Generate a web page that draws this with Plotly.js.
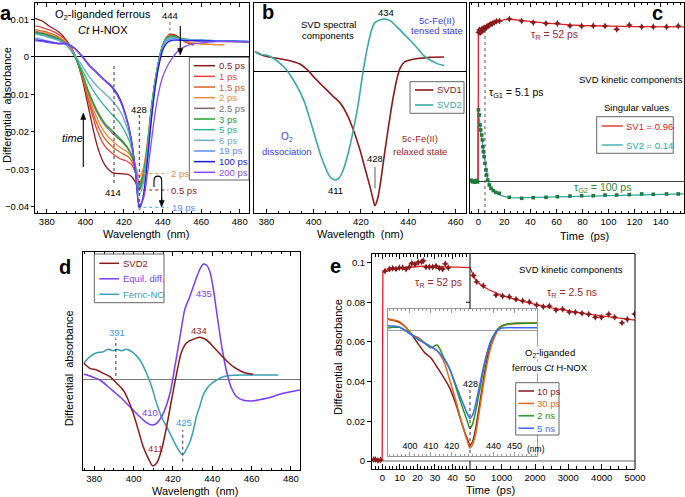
<!DOCTYPE html>
<html><head><meta charset="utf-8">
<script src="https://cdn.plot.ly/plotly-3.0.1.min.js"></script>
<style>html,body{margin:0;padding:0;background:#fff}#chart{width:685px;height:497px}</style>
</head><body><div id="chart"></div>
<script>
// ---------- Panel a : transient spectra ----------
const A_WL = [374,378,382,386,390,394,398,402,406,410,414,418,422,424,426,428,430,432,434,436,438,440,442,444,446,448,452,456,460,464,468,472,476,480,485];
const A_NAMES = ['0.5 ps','1 ps','1.5 ps','2 ps','2.5 ps','3 ps','5 ps','6 ps','19 ps','100 ps','200 ps'];
const A_COLORS = ['#8b1a1a','#e8403a','#e0601a','#f08a3a','#7d6a6a','#22a02a','#2ab58a','#6aaec5','#5a8cff','#1a1ae0','#8a4af5'];
const A_05 = [0.0102,0.0094,0.0079,0.0067,0.0045,0.0012,-0.0052,-0.0145,-0.0235,-0.0288,-0.0309,-0.0312,-0.0314,-0.032,-0.0335,-0.0356,-0.0325,-0.026,-0.0165,-0.0082,-0.002,0.0025,0.005,0.006,0.0059,0.0053,0.0039,0.0031,null,null,null,null,null,null,null];
const A_1 = [0.0082,0.0077,0.007,0.006,0.0043,0.0012,-0.0045,-0.0125,-0.0195,-0.0238,-0.0258,-0.0272,-0.028,-0.0288,-0.031,-0.0342,-0.0315,-0.0245,-0.0152,-0.0074,-0.0015,0.0028,0.005,0.0058,0.0057,0.0052,0.004,0.0033,null,null,null,null,null,null,null];
const A_15 = [0.0072,0.0068,0.0062,0.0053,0.0038,0.001,-0.0045,-0.0118,-0.0178,-0.0218,-0.024,-0.0255,-0.0266,-0.0278,-0.0302,-0.0335,-0.031,-0.024,-0.0148,-0.007,-0.0012,0.003,0.0051,0.0057,0.0055,0.005,0.0041,0.0036,0.0034,0.0033,0.0032,0.0033,null,null,null];
const A_2 = [0.0068,0.0064,0.0058,0.005,0.0036,0.0008,-0.0042,-0.0108,-0.0163,-0.0202,-0.0225,-0.0242,-0.0255,-0.0268,-0.0292,-0.032,-0.0298,-0.0232,-0.0142,-0.0066,-0.001,0.003,0.005,0.0056,0.0054,0.0049,0.0041,0.0036,0.0034,0.0033,0.0032,0.0032,null,null,null];
const A_25 = [0.0066,0.0062,0.0056,0.0048,0.0034,0.0006,-0.0042,-0.01,-0.0148,-0.0182,-0.0204,-0.0222,-0.0245,-0.0265,-0.03,-0.0352,-0.0322,-0.0248,-0.0152,-0.0072,-0.0014,0.0028,0.0048,0.0055,0.0054,0.005,0.0045,0.0043,0.0042,0.0042,0.0041,0.0041,0.004,0.004,0.0039];
const A_3 = [0.0064,0.006,0.0054,0.0047,0.0033,0.0005,-0.004,-0.0097,-0.0143,-0.0177,-0.0198,-0.0218,-0.0243,-0.0263,-0.0298,-0.0345,-0.0318,-0.0245,-0.015,-0.007,-0.0012,0.003,0.0049,0.0055,0.0054,0.0051,0.0047,0.0045,0.0044,0.0043,0.0043,0.0042,0.0042,0.0041,0.004];
const A_5 = [0.0063,0.0058,0.0052,0.0045,0.0032,0.0006,-0.0032,-0.0072,-0.0105,-0.0132,-0.0155,-0.0178,-0.0215,-0.0245,-0.0295,-0.0352,-0.0325,-0.025,-0.0152,-0.0072,-0.0013,0.0028,0.0047,0.0052,0.0051,0.0049,0.0046,0.0045,0.0044,0.0043,0.0043,0.0042,0.0042,0.0041,0.004];
const A_6 = [0.006,0.0056,0.005,0.0044,0.0032,0.0009,-0.0022,-0.0053,-0.0078,-0.0098,-0.0118,-0.0145,-0.0195,-0.0235,-0.0295,-0.0368,-0.034,-0.026,-0.0158,-0.0075,-0.0015,0.0026,0.0045,0.005,0.005,0.0048,0.0046,0.0045,0.0044,0.0044,0.0043,0.0043,0.0042,0.0042,0.0041];
const A_19 = [0.005,0.0045,0.004,0.0036,0.0036,0.0025,0.0004,-0.0022,-0.0042,-0.0062,-0.008,-0.0112,-0.0175,-0.0225,-0.031,-0.0408,-0.0375,-0.0285,-0.0175,-0.0085,-0.002,0.0023,0.0041,0.0047,0.0048,0.0047,0.0045,0.0044,0.0044,0.0043,0.0043,0.0043,0.0042,0.0042,0.0041];
const A_100 = [0.0045,0.0042,0.0038,0.0035,0.0035,0.0024,0.0003,-0.0023,-0.0043,-0.0063,-0.0082,-0.0115,-0.0178,-0.0228,-0.031,-0.0402,-0.0372,-0.0285,-0.0178,-0.009,-0.0026,0.0016,0.0035,0.0042,0.0044,0.0044,0.0043,0.0043,0.0042,0.0042,0.0041,0.0041,0.0041,0.004,0.004];
const A_200 = [0.0043,0.004,0.0037,0.0034,0.0034,0.0023,0.0002,-0.0024,-0.0044,-0.0064,-0.0084,-0.0118,-0.018,-0.0228,-0.0305,-0.0395,-0.038,-0.0318,-0.0235,-0.0155,-0.0095,-0.0055,-0.003,-0.0012,0.0003,0.0015,0.0028,0.0034,0.0037,0.0039,0.004,0.004,0.004,0.004,0.004];
const A_SERIES = [A_05,A_1,A_15,A_2,A_25,A_3,A_5,A_6,A_19,A_100,A_200];

// ---------- Panel b : SVD spectral components ----------
const B_WL1 = [375.2,379.4,384.4,390,394.2,397.7,400.6,404.1,408.3,411.1,413.9,416.8,419.6,421.7,423.8,425.2,425.9,426.9,428,429.4,430.8,432.3,433.7,435.1,436.5,438.6,440.7,444.9,449.2,455.1];
const B_SVD1 = [0.144,0.112,0.095,0.077,0.052,0.0025,-0.055,-0.117,-0.19,-0.236,-0.316,-0.44,-0.59,-0.726,-0.863,-0.963,-1.005,-0.963,-0.863,-0.689,-0.515,-0.34,-0.19,-0.067,0.02,0.07,0.082,0.095,0.102,0.104];
const B_WL2 = [375.2,377.3,380.1,383,385.8,388.6,391.4,394.2,396.3,398.5,400.6,402.7,404.8,406.9,409,410.4,412.5,414.6,416.8,418.9,421,423.1,424.5,425.9,428,430.1,432.3,435.1,437.9,440.7,443.5,446.3,449.2,452,455.1];
const B_SVD2 = [0.144,0.124,0.119,0.095,0.057,0.0075,-0.067,-0.154,-0.241,-0.366,-0.49,-0.614,-0.714,-0.789,-0.813,-0.806,-0.739,-0.614,-0.44,-0.241,0.0075,0.206,0.306,0.361,0.381,0.388,0.376,0.331,0.281,0.231,0.177,0.119,0.082,0.057,0.04];

// ---------- Panel c : SVD kinetic components ----------
const C_FIT1_T = [-6.4,-0.1,0,1,2,3,5,7,10,13,16,20,25,30,40,50,60,70,80,90,100,110,120,130,140,150,158];
const C_FIT1_V = [0,0,0.935,0.94,0.944,0.948,0.957,0.966,0.98,0.993,1.002,1.009,1.011,1.008,0.998,0.988,0.981,0.976,0.972,0.969,0.967,0.966,0.965,0.964,0.964,0.963,0.963];
const C_PTS1_T = [0.3,0.8,1.3,1.8,2.3,2.8,3.3,3.8,4.3,5,5.8,6.6,7.5,8.5,9.6,10.8,12.2,14,16.2,23.8,33.3,42.2,52,60.7,70.4,79.4,88.3,97.3,106.3,116,125.5,134.4,144.6,153.6];
const C_PTS1_V = [0.93,0.945,0.925,0.94,0.935,0.95,0.94,0.955,0.945,0.958,0.955,0.965,0.97,0.975,0.98,0.985,0.99,0.998,1.0,1.0125,1.0,0.99,0.985,0.985,0.971,0.969,0.971,0.969,0.948,0.975,0.964,0.964,0.964,0.969];
const C_FIT2_T = [-6.4,-0.4,-0.35,0.5,1,1.5,2,3,4,5,6,7,8,10,12,15,20,25,30,40,50,60,80,100,120,140,158];
const C_FIT2_V = [-0.003,-0.003,0.45,0.41,0.37,0.33,0.3,0.245,0.18,0.115,0.06,0.02,-0.012,-0.045,-0.066,-0.082,-0.097,-0.104,-0.106,-0.104,-0.101,-0.098,-0.093,-0.089,-0.086,-0.083,-0.081];
const C_PTS2_T = [-5.5,-4.5,-3.5,-2.5,-1.5,-0.5,0.1,0.8,1.3,1.8,2.6,3.1,3.5,3.9,4.4,5.1,5.9,6.4,7.2,8.4,9.7,11.5,13.5,16.1,23.8,33.3,42.2,52,60.7,70.4,79.4,88.3,97.3,106.3,116,125.5,134.4,144.6,153.6];
const C_PTS2_V = [0.005,-0.005,0.0,-0.008,0.003,-0.005,0.445,0.4125,0.35,0.319,0.2875,0.256,0.214,0.183,0.152,0.11,0.069,0.0375,0.006,-0.025,-0.046,-0.06,-0.071,-0.077,-0.102,-0.108,-0.104,-0.102,-0.098,-0.094,-0.092,-0.092,-0.0875,-0.0875,-0.085,-0.081,-0.083,-0.081,-0.081];
const C_TAU_G1 = 5.1;

// ---------- Panel d : comparison spectra ----------
const D_WL_SVD2 = [374.7,377.8,381.2,384.6,388,391.4,394.7,397.3,399.8,402.4,404.9,407.5,409.7,411.7,414.2,416.8,419.3,421.9,424.4,427,430.3,433.7,437.1,440.5,443.9,447.3,450.7,454.1,457.5,460.8];
const D_SVD2 = [0.157,0.107,0.09,0.057,0.023,-0.043,-0.11,-0.21,-0.343,-0.51,-0.677,-0.793,-0.867,-0.843,-0.71,-0.477,-0.21,0.057,0.273,0.363,0.397,0.417,0.39,0.323,0.25,0.183,0.123,0.083,0.058,0.047];
const D_WL_EQ = [374.7,379.5,382.9,388,393,398.1,403.2,406.6,409.2,411.7,415.1,418.5,421,423.6,426.1,428.3,430.3,432.3,434,435.5,437,438.8,440.5,442.2,444.7,447.3,449.8,452.4,455.8,460,467.6,476.1,484.6];
const D_EQ = [0.05,0.017,-0.01,-0.093,-0.177,-0.277,-0.377,-0.437,-0.46,-0.443,-0.343,-0.143,0.123,0.423,0.7,0.81,0.92,1.03,1.11,1.15,1.14,1.073,0.907,0.673,0.34,0.073,-0.093,-0.177,-0.213,-0.22,-0.193,-0.143,-0.11];
const D_WL_NO = [374.7,377.8,381.2,384.6,387.1,389.7,391.4,393.9,396.4,399.8,403.2,406.6,409.2,411.7,414.2,416.8,419.3,421.9,424.4,425.6,426.9,428.6,430.3,432,433.7,435.4,437.1,438.8,442.2,445.6,450.7,456,462,468,473.6];
const D_NO = [0.157,0.223,0.263,0.273,0.297,0.283,0.297,0.283,0.297,0.263,0.19,0.057,-0.077,-0.243,-0.377,-0.477,-0.577,-0.677,-0.75,-0.745,-0.7,-0.63,-0.52,-0.37,-0.27,-0.16,-0.1,-0.06,-0.01,0.023,0.037,0.04,0.04,0.04,0.04];
const D_MARK_391 = 391, D_MARK_425 = 425;

// ---------- Panel e : long-time kinetics + inset ----------
const E_FIT1_T = [-5.9,-0.1,0.3,2,5,10,15,20,25,30,35,40,45,50];
const E_FIT1_V = [0.0004,0.0004,0.095,0.0955,0.0963,0.097,0.0976,0.098,0.0982,0.0981,0.0979,0.0977,0.0975,0.0974];
const E_PTS1_T = [-5,-4,-2.5,-1,1.5,4.0,5.9,7.8,9.7,11.6,13.5,15.4,16.8,18.6,20.5,22.4,23.4,24.9,26.8,28.7,30.6,32.5,34.4,35.9,37.6];
const E_PTS1_V = [0.0007,0.0008,0.0003,0.0005,0.0957,0.0967,0.0971,0.0967,0.0974,0.0974,0.0967,0.0977,0.0996,0.0991,0.1001,0.1004,0.1009,0.0977,0.0977,0.0977,0.0982,0.0971,0.0967,0.0994,0.0974];
const E_FIT2_T = [50,100,150,200,300,400,600,800,1000,1300,1600,2000,2500,3000,3500,4000,4500,5000];
const E_FIT2_V = [0.0974,0.0952,0.0932,0.0917,0.0898,0.0885,0.0864,0.0848,0.0835,0.0819,0.0805,0.0789,0.0771,0.0756,0.0743,0.0731,0.072,0.071];
const E_PTS2_T = [150,250,450,830,1030,1230,1430,1630,1830,2050,2250,2430,2630,2830,3030,3210,3410,3610,3810,3990,4210,4390,4610,4770,4990];
const E_PTS2_V = [0.0935,0.0903,0.0883,0.0836,0.0831,0.0828,0.0815,0.0808,0.0801,0.0786,0.0777,0.0781,0.0761,0.0764,0.0751,0.0749,0.0744,0.0739,0.0724,0.0724,0.0739,0.0724,0.0697,0.0714,0.0741];
const INSET_WL = [389.5,392,395,398,401,404,407,410,413,416,419,422,424,426,427.5,428.7,430,431.5,433,434.5,436,437.5,439,440.5,442,444,447,451,456,460.8];
const INSET_NAMES = ['10 ps','30 ps','2 ns','5 ns'];
const INSET_COLORS = ['#8b1a1a','#e06a1a','#229a22','#3a6af5'];
const I_10 = [0.0039,0.0035,0.0028,0.0012,-0.0013,-0.0043,-0.0071,-0.0088,-0.0119,-0.0151,-0.0187,-0.0241,-0.0286,-0.0328,-0.0355,-0.0374,-0.0362,-0.0318,-0.0256,-0.0188,-0.0128,-0.0073,-0.0036,-0.0012,0.0006,0.0017,0.0023,0.0025,0.0025,0.0025];
const I_30 = [0.004,0.0036,0.0031,0.0013,-0.0012,-0.0022,-0.0038,-0.0052,-0.0065,-0.0097,-0.016,-0.023,-0.0282,-0.033,-0.0362,-0.0385,-0.0372,-0.0335,-0.0272,-0.0205,-0.0142,-0.0087,-0.0047,-0.002,0.0002,0.0015,0.0022,0.0024,0.0025,0.0025];
const I_2N = [0.001,0.0012,0.0012,0.0002,-0.0012,-0.0028,-0.004,-0.0055,-0.0046,-0.0085,-0.0125,-0.0185,-0.0228,-0.0268,-0.0297,-0.032,-0.0305,-0.0262,-0.0208,-0.0152,-0.0102,-0.006,-0.003,-0.001,0.0006,0.0017,0.0023,0.0025,0.0025,0.0025];
const I_5N = [0.0017,0.0016,0.0012,0.0,-0.0014,-0.0027,-0.004,-0.0052,-0.0065,-0.0088,-0.0125,-0.0178,-0.0214,-0.0248,-0.0272,-0.0287,-0.0275,-0.0238,-0.019,-0.014,-0.0095,-0.0057,-0.0028,-0.001,0.0003,0.001,0.0011,0.0011,0.0011,0.0011];
const INSET_SERIES = [I_10,I_30,I_2N,I_5N];

// ---------- helpers ----------
const W=685,H=497;
const X=x=>x/W, Y=y=>1-y/H;
const FONT='Liberation Sans, Arial, Helvetica, sans-serif';
const F=(s,c)=>({family:FONT,size:s||9.5,color:c||'#000'});
const dx=(a,b)=>[a/W,b/W], dy=(t,b)=>[1-b/H,1-t/H];
const ann=[], shp=[], traces=[];
function T(x,y,text,o){ann.push(Object.assign({xref:'paper',yref:'paper',x:X(x),y:Y(y),text:text,showarrow:false,xanchor:'center',yanchor:'middle',font:F()},o||{}));}
function L(x0,y0,x1,y1,color,width,dash){shp.push({type:'line',xref:'paper',yref:'paper',x0:X(x0),y0:Y(y0),x1:X(x1),y1:Y(y1),line:{color:color,width:width||1,dash:dash||'solid'},layer:'above'});}
function R(x0,y0,x1,y1,color){shp.push({type:'rect',xref:'paper',yref:'paper',x0:X(x0),y0:Y(y0),x1:X(x1),y1:Y(y1),line:{color:color||'#555',width:1},fillcolor:'#fff',layer:'above'});}
function legendBox(box,names,colors,y0,dyy,lx0,lx1,tx,size,lw){R(box[0],box[1],box[2],box[3],'#666');names.forEach((n,i)=>{const y=y0+i*dyy;L(lx0,y,lx1,y,colors[i],lw||1.5);T(tx,y,n,{xanchor:'left',font:F(size||9.5,colors[i])});});}
// vertical arrow drawn as shapes: tail (x,y0) -> head (x,y1)
function varrow(x,y0,y1,color){const s=Math.sign(y1-y0);const c=color||'#000';
  L(x,y0,x,y1-s*5,c,1.1);
  shp.push({type:'path',xref:'paper',yref:'paper',layer:'above',line:{color:c,width:0.5},fillcolor:c,
    path:`M ${X(x)},${Y(y1)} L ${X(x-2.6)},${Y(y1-s*6.5)} L ${X(x+2.6)},${Y(y1-s*6.5)} Z`});}
function lineTrace(x,y,xa,ya,color,width,shape){traces.push({type:'scatter',mode:'lines',x:x,y:y,xaxis:xa,yaxis:ya,line:{color:color,width:width||1.4,shape:shape||'spline',smoothing:0.8},connectgaps:false,hoverinfo:'skip'});}
function ptsTrace(x,y,xa,ya,color,symbol,size){traces.push({type:'scatter',mode:'markers',x:x,y:y,xaxis:xa,yaxis:ya,marker:{color:color,symbol:symbol,size:size,line:{width:0}},hoverinfo:'skip'});}

// ---------- traces ----------
A_SERIES.forEach((s,i)=>lineTrace(A_WL,s,'x','y',A_COLORS[i],1.3));
lineTrace(B_WL1,B_SVD1,'x2','y2','#8b1a1a',1.6);
lineTrace(B_WL2,B_SVD2,'x2','y2','#3aa8a8',1.6);
lineTrace(C_FIT2_T,C_FIT2_V,'x3','y3','#2aa8a8',1.3,'linear');
lineTrace(C_FIT1_T,C_FIT1_V,'x3','y3','#e02020',1.3,'linear');
ptsTrace(C_PTS2_T,C_PTS2_V,'x3','y3','#1e7a3a','square',3.6);
ptsTrace(C_PTS1_T,C_PTS1_V,'x3','y3','#8b1a1a','star-diamond',5);
lineTrace(D_WL_NO,D_NO,'x4','y4','#3aa0b5',1.5);
lineTrace(D_WL_EQ,D_EQ,'x4','y4','#7a3cf5',1.5);
lineTrace(D_WL_SVD2,D_SVD2,'x4','y4','#8b1a1a',1.5);
lineTrace(E_FIT1_T,E_FIT1_V,'x5','y5','#e02020',1.3,'linear');
ptsTrace(E_PTS1_T,E_PTS1_V,'x5','y5','#8b1a1a','star-diamond',5);
lineTrace(E_FIT2_T,E_FIT2_V,'x6','y5','#e02020',1.3,'linear');
ptsTrace(E_PTS2_T,E_PTS2_V,'x6','y5','#8b1a1a','star-diamond',5);
INSET_SERIES.forEach((s,i)=>lineTrace(INSET_WL,s,'x7','y7',INSET_COLORS[i],1.5));

// ---------- axes ----------
const base={showline:true,linecolor:'#000',linewidth:1,showgrid:false,zeroline:false,ticks:'inside',ticklen:4,tickwidth:1,tickcolor:'#000',tickfont:F(9.5),fixedrange:true};
const ax=o=>Object.assign({},base,o);
const minor=(d,len)=>({dtick:d,ticks:'inside',ticklen:len||2,tickcolor:'#000'});
const layout={
  width:W,height:H,margin:{l:0,r:0,t:0,b:0},paper_bgcolor:'#fff',plot_bgcolor:'#fff',showlegend:false,font:F(9.5),
  xaxis:ax({domain:dx(35,249),range:[373.9,484.8],anchor:'y',tick0:380,dtick:20,mirror:'ticks',minor:minor(5)}),
  yaxis:ax({domain:dy(3,213),range:[-0.04168,0.01432],anchor:'x',tick0:0,dtick:0.01,ticks:'outside',ticklen:3,mirror:true,zeroline:true,zerolinecolor:'#000',zerolinewidth:1}),
  xaxis2:ax({domain:dx(254,466),range:[374.8,464.4],anchor:'y2',tick0:380,dtick:20,mirror:true,minor:minor(5)}),
  yaxis2:ax({domain:dy(3,213),range:[-1.0597,0.5075],anchor:'x2',showticklabels:false,ticks:'',mirror:true,zeroline:true,zerolinecolor:'#000',zerolinewidth:1}),
  xaxis3:ax({domain:dx(470,684),range:[-6.4,158],anchor:'y3',tick0:0,dtick:20,mirror:'ticks',minor:minor(5)}),
  yaxis3:ax({domain:dy(3,213),range:[-0.2,1.1125],anchor:'x3',showticklabels:false,ticks:'',mirror:true,zeroline:true,zerolinecolor:'#444',zerolinewidth:1}),
  xaxis4:ax({domain:dx(83,300),range:[374.3,484.6],anchor:'y4',tick0:380,dtick:20,mirror:'ticks',minor:minor(5)}),
  yaxis4:ax({domain:dy(252,470),range:[-0.91,1.27],anchor:'x4',showticklabels:false,ticks:'',mirror:true,zeroline:true,zerolinecolor:'#777',zerolinewidth:1}),
  xaxis5:ax({domain:dx(372,470),range:[-5.9,50],anchor:'y5',tick0:0,dtick:10,ticklen:5,mirror:'ticks',minor:minor(2,3)}),
  yaxis5:ax({domain:dy(254,469),range:[-0.00403,0.1043],anchor:'x5',tick0:0,dtick:0.02,ticks:'outside',ticklen:4,mirror:false}),
  xaxis6:ax({domain:dx(470,635),range:[50,5000],anchor:'y5',tick0:0,dtick:1000,ticklen:5,mirror:true,minor:minor(250,3)}),
  xaxis7:ax({domain:dx(388,537),range:[389.5,460.8],anchor:'y7',tickmode:'array',tickvals:[400,410,420,440,450],ticklabelposition:'inside',tickfont:F(9),linecolor:'#999',tickcolor:'#999',mirror:'ticks',minor:{tick0:400,dtick:2,ticks:'inside',ticklen:2,tickcolor:'#999'}}),
  yaxis7:ax({domain:dy(309,456),range:[-0.04105,0.00722],anchor:'x7',showticklabels:false,ticks:'',linecolor:'#999',mirror:true,zeroline:true,zerolinecolor:'#999',zerolinewidth:1})
};

// ---------- panel a annotations ----------
T(6,13,'<b>a</b>',{font:F(20)});
T(102.5,15,'O<sub>2</sub>-liganded ferrous',{font:F(11)});
T(103.3,30,'<i>Ct</i> H-NOX',{font:F(11)});
T(170,16,'444');
L(170,22,170,30,'#666',1,'dot');
varrow(180.3,26,55);
T(139.3,109,'428');
L(139.3,115,139.3,207,'#333',1,'dot');
T(113.3,192.3,'414');
L(114,66,114,183,'#333',1,'dot');
T(72,138,'<i>time</i>',{font:F(11)});
varrow(83.3,167,113);
L(143.3,173.7,168.3,173.7,'#f08a3a',1,'dot'); T(169.3,173.7,'2 ps',{xanchor:'left',font:F(9.5,'#f08a3a')});
L(143.3,190,168.3,190,'#8b1a1a',1,'dot'); T(169.3,190,'0.5 ps',{xanchor:'left',font:F(9.5,'#8b1a1a')});
L(143.3,207.3,168.3,207.3,'#40b0d0',1,'dot'); T(170,207.3,'19 ps',{xanchor:'left',font:F(9.5,'#5a8cff')});
shp.push({type:'path',xref:'paper',yref:'paper',layer:'above',line:{color:'#000',width:1.1},
  path:`M ${X(154)},${Y(187)} L ${X(154)},${Y(181)} C ${X(154)},${Y(174.5)} ${X(161.7)},${Y(174.5)} ${X(161.7)},${Y(181)} L ${X(161.7)},${Y(200)}`});
varrow(161.7,198,207);
legendBox([189.3,57.3,249,180],A_NAMES,A_COLORS,65.7,10.66,194,215,216.5,9.5,1.5);
T(145.7,234.3,'Wavelength\u00a0 (nm)',{font:F(11)});
T(7,105,'Differential\u00a0 absorbance',{textangle:-90,font:F(11)});

// ---------- panel b annotations ----------
const BLUE='#3a3af0', DRED='#a02828';
T(268,12.3,'<b>b</b>',{font:F(20)});
T(328.3,24.3,'SVD spectral'); T(328.3,35,'components');
T(385.7,12.3,'434');
T(436.7,20,'5c-Fe(II)',{font:F(9.5,BLUE)}); T(436.7,31,'tensed state',{font:F(9.5,BLUE)});
legendBox([410,81.7,464,113.3],['SVD1','SVD2'],['#8b1a1a','#3aa8a8'],90,15,415,433.3,435,9.5,1.6);
T(286.7,136.7,'O<sub>2</sub>',{font:F(10,BLUE)}); T(286.7,151,'dissociation',{font:F(9.5,BLUE)});
T(420,138.3,'5c-Fe(II)',{font:F(9.5,DRED)}); T(420,151,'relaxed state',{font:F(9.5,DRED)});
T(375,158.3,'428'); L(375,166.7,375,188.3,'#777',1.2);
T(335,190.7,'411');
T(360,234,'Wavelength\u00a0 (nm)',{font:F(11)});

// ---------- panel c annotations ----------
T(657.3,13.3,'<b>c</b>',{font:F(20)});
T(554,34.7,'τ<sub>R</sub> = 52 ps',{font:F(10.5,DRED)});
T(630.5,79,'SVD kinetic components');
T(516.3,92.7,'τ<sub>G1</sub> = 5.1 ps',{font:F(10.5)});
T(636.3,107.7,'Singular values');
legendBox([596.7,116.7,673.3,153.3],['SV1 = 0.96','SV2 = 0.14'],['#e02020','#2aa8a8'],126,19,601.7,622.7,624.3,9.5,1.3);
T(602.3,188.3,'τ<sub>G2</sub> = 100 ps',{font:F(10.5,'#2a8a3a')});
shp.push({type:'line',xref:'x3',yref:'paper',x0:C_TAU_G1,x1:C_TAU_G1,y0:Y(213),y1:Y(30),line:{color:'#555',width:1,dash:'dot'},layer:'above'});
T(584,236,'Time\u00a0 (ps)',{font:F(11)});

// ---------- panel d annotations ----------
const LBLUE='#3a9af0', PURP='#7a3cf5';
T(65,266.7,'<b>d</b>',{font:F(20)});
legendBox([94.3,254,164,302.7],['SVD2','Equil. diff.','Ferric-NO'],['#8b1a1a',PURP,'#3aa0b5'],263.3,15.5,99.3,119,120.5,9.5,1.5);
T(116.7,332.7,'391',{font:F(9.5,LBLUE)});
shp.push({type:'line',xref:'x4',yref:'paper',x0:D_MARK_391,x1:D_MARK_391,y0:Y(376),y1:Y(338.3),line:{color:'#333',width:1,dash:'dot'},layer:'above'});
T(199.3,330.7,'434',{font:F(9.5,DRED)});
T(204,293.3,'435',{font:F(9.5,PURP)});
T(150,412.7,'410',{font:F(9.5,PURP)});
T(184,422.7,'425',{font:F(9.5,LBLUE)});
shp.push({type:'line',xref:'x4',yref:'paper',x0:D_MARK_425,x1:D_MARK_425,y0:Y(461.7),y1:Y(430),line:{color:'#333',width:1,dash:'dot'},layer:'above'});
T(155,448.3,'411',{font:F(9.5,DRED)});
T(195,490.7,'Wavelength\u00a0 (nm)',{font:F(11)});
T(69,368.3,'Differential\u00a0 absorbance',{textangle:-90,font:F(11)});

// ---------- panel e annotations / frame pieces ----------
T(335,265.7,'<b>e</b>',{font:F(20)});
T(570.8,269,'SVD kinetic components');
T(439,282.7,'τ<sub>R</sub> = 52 ps',{font:F(10.5,DRED)});
T(571.7,293.3,'τ<sub>R</sub> = 2.5 ns',{font:F(10.5,DRED)});
shp.push({type:'line',xref:'paper',yref:'y5',x0:X(372),x1:X(635),y0:0,y1:0,line:{color:'#666',width:1},layer:'below'});
L(635,254,635,469,'#000',1);
L(470,254,470,309,'#000',1);
L(470,461,470,469,'#000',1);
L(466,302.3,470,302.3,'#000',1);
T(550,352.7,'O<sub>2</sub>-liganded',{bgcolor:'#fff',borderpad:0});
T(550,367.3,'ferrous <i>Ct</i> H-NOX',{bgcolor:'#fff',borderpad:0});
T(470,384,'428',{font:F(9)});
L(470,390,470,455,'#333',1,'dot');
legendBox([515.7,382.7,559,435],INSET_NAMES,INSET_COLORS,391,12.4,518.3,534,535,9.5,1.5);
T(536,449,'(nm)',{font:F(8.5)});
T(490,490,'Time\u00a0 (ps)',{font:F(11)});
T(337.3,356.7,'Differential\u00a0 absorbance',{textangle:-90,font:F(11)});

layout.annotations=ann; layout.shapes=shp;
Plotly.newPlot('chart',traces,layout,{staticPlot:true,displayModeBar:false});
</script></body></html>
